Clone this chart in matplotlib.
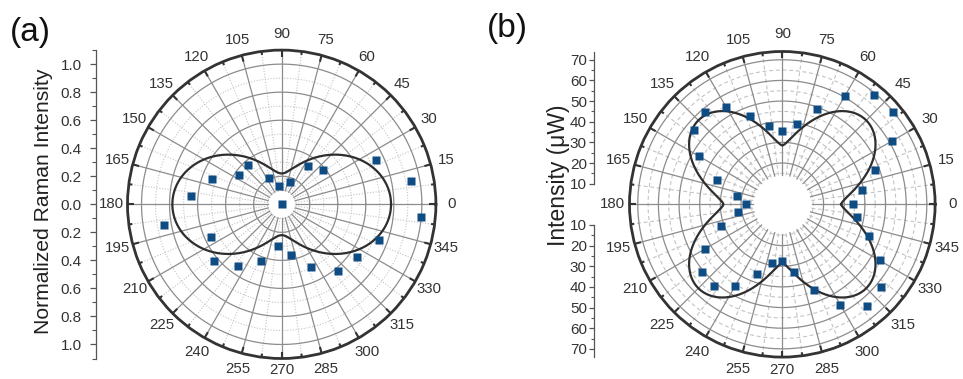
import matplotlib
matplotlib.use("Agg")  # headless
import matplotlib.pyplot as plt
import numpy as np

plt.rcParams["font.family"] = ["Liberation Sans", "DejaVu Sans"]

# ---- panel (a): normalized Raman intensity vs polarization angle (deg)
ANGLES_A = [10, 25, 40, 55, 70, 85, 100, 115, 130, 145, 160, 175,
            190, 205, 220, 235, 250, 265, 280, 295, 310, 325, 340, 355]
RAMAN_A = [0.94, 0.74, 0.38, 0.33, 0.17, 0.0, 0.13, 0.21, 0.37, 0.37, 0.53, 0.65,
           0.85, 0.56, 0.63, 0.54, 0.43, 0.30, 0.37, 0.49, 0.62, 0.66, 0.74, 1.0]
# cos^2 fit: (value at 90 deg, value at 0 deg)
FIT_A = (0.22, 0.78)
RTICKS_A = [-1.0, -0.8, -0.6, -0.4, -0.2, 0.0, 0.2, 0.4, 0.6, 0.8, 1.0]

# ---- panel (b): intensity (uW) vs angle (deg)
ANGLES_B = [0, 10, 20, 30, 40, 50, 60, 70, 80, 90, 100, 110,
            120, 130, 140, 150, 160, 170, 180, 190, 200, 210, 220, 230,
            240, 250, 260, 270, 280, 290, 300, 310, 320, 330, 340, 350]
POWER_B = [34.3, 39.0, 48.0, 61.2, 69.7, 69.0, 60.4, 49.3, 39.7, 35.3, 38.3, 45.7,
           54.6, 58.6, 55.9, 46.8, 33.9, 22.5, 17.8, 21.7, 31.4, 43.1, 50.8, 51.5,
           45.7, 35.9, 29.0, 27.3, 33.5, 44.4, 56.2, 64.0, 62.6, 54.4, 44.5, 36.5]
# four-lobe fit: (value at 0/90 deg, value at 45 deg, shape exponent)
FIT_B = (28.5, 57.5, 1.5)
RTICKS_B = [10, 20, 30, 40, 50, 60, 70]

ANGLE_LABELS = list(range(0, 360, 15))

W, H = 963, 379
MAJOR_C = "#8c8c8c"
MINOR_C = "#c4c4c4"
RING_C = "#333333"
MARK_C = "#0f4c84"
TEXT_C = "#333333"

fig = plt.figure(figsize=(W / 100, H / 100), dpi=100)


def polar_panel(cx, cy, rpx, rmax, r_hole, major_r, minor_r, minor_ls):
    rect = [(cx - rpx) / W, (H - cy - rpx) / H, 2 * rpx / W, 2 * rpx / H]
    ax = fig.add_axes(rect, projection="polar")
    ax.set_ylim(0, rmax)
    ax.set_xticks([])
    ax.set_yticks([])
    ax.grid(False)
    ax.spines["polar"].set_linewidth(2.0)
    ax.spines["polar"].set_color(RING_C)
    full = np.linspace(0, 2 * np.pi, 721)
    for r in minor_r:
        ax.plot(full, np.full_like(full, r), color=MINOR_C, lw=0.8, ls=minor_ls, zorder=1)
    for r in major_r:
        ax.plot(full, np.full_like(full, r), color=MAJOR_C, lw=0.9, zorder=1.2)
    for deg in ANGLE_LABELS:
        t = np.deg2rad(deg)
        ax.plot([t, t], [r_hole, rmax], color=MAJOR_C, lw=0.9, zorder=1.2)
        tm = np.deg2rad(deg + 7.5)
        ax.plot([tm, tm], [r_hole, rmax], color=MINOR_C, lw=0.8, ls=minor_ls, zorder=1)
    # ticks on the outer ring, pointing inwards
    per_px = rmax / rpx
    for k in range(48):
        t = np.deg2rad(k * 7.5)
        L = 6.5 if k % 2 == 0 else 3.5
        ax.plot([t, t], [rmax - L * per_px, rmax], color=RING_C, lw=1.5,
                solid_capstyle="butt", clip_on=False, zorder=3)
    for deg in ANGLE_LABELS:
        lab_px = 166 if deg == 270 else 170
        ax.text(np.deg2rad(deg), rmax * lab_px / rpx, str(deg), ha="center", va="center",
                fontsize=10.8, color=TEXT_C)
    return ax


def radial_axis(x, cy, rpx, rmax, bounds, ticks, minor, fmt, length, pad):
    ax = fig.add_axes([x / W, (H - cy - rpx) / H, 0.0005, 2 * rpx / H])
    ax.set_ylim(-rmax, rmax)
    for s in ["top", "right", "bottom"]:
        ax.spines[s].set_visible(False)
    ax.spines["left"].set_color("#555555")
    ax.spines["left"].set_linewidth(0.9)
    ax.spines["left"].set_bounds(*bounds)
    ax.patch.set_visible(False)
    ax.set_xticks([])
    ax.set_yticks(ticks)
    ax.set_yticklabels([fmt(abs(v)) for v in ticks])
    ax.set_yticks(minor, minor=True)
    ax.tick_params(axis="y", which="major", length=length, width=0.9, pad=pad,
                   labelsize=11, colors="#555555", labelcolor=TEXT_C)
    ax.tick_params(axis="y", which="minor", length=length * 0.55, width=0.8, colors="#555555")
    return ax


# ---------------- panel (a)
axa = polar_panel(281.7, 204.3, 154.2, 1.1, 0.1,
                  [0.2, 0.4, 0.6, 0.8, 1.0], [0.1, 0.3, 0.5, 0.7, 0.9], (0, (1, 1.5)))
th = np.linspace(0, 2 * np.pi, 721)
axa.plot(th, FIT_A[0] + (FIT_A[1] - FIT_A[0]) * np.cos(th) ** 2,
         color="#2e2e2e", lw=1.6, zorder=4)
axa.plot(np.deg2rad(ANGLES_A), RAMAN_A, "s", color=MARK_C, ms=5.4, mec="none",
         zorder=5, clip_on=False)
radial_axis(95.7, 204.3, 154.2, 1.1, (-1.1, 1.1), RTICKS_A,
            [v / 10 for v in range(-11, 12, 2)], lambda v: f"{v:.1f}", 4.6, 5.5)
fig.text(44, H - 201, "Normalized Raman Intensity", transform=None, rotation=90,
         ha="center", va="center", fontsize=15.2, color="#222222")
fig.text(30 / W, 1 - 32 / H, "(a)", ha="center", va="center", fontsize=24, color="#111111")

# ---------------- panel (b)
axb = polar_panel(782.3, 204.3, 152.8, 74, 14.2,
                  [20, 30, 40, 50, 60, 70], [15, 25, 35, 45, 55, 65], (0, (3.5, 2.5)))
axb.plot(th, FIT_B[0] + (FIT_B[1] - FIT_B[0]) * np.abs(np.sin(2 * th)) ** FIT_B[2],
         color="#2e2e2e", lw=1.6, zorder=4)
axb.plot(np.deg2rad(ANGLES_B), POWER_B, "s", color=MARK_C, ms=5.4, mec="none",
         zorder=5, clip_on=False)
minor_b = [15, 25, 35, 45, 55, 65]
radial_axis(594.3, 204.3, 152.8, 74, (10, 74), RTICKS_B, minor_b,
            lambda v: f"{v:.0f}", 3.8, 1.5)
radial_axis(594.3, 204.3, 152.8, 74, (-74, -10), [-v for v in RTICKS_B],
            [-v for v in minor_b], lambda v: f"{v:.0f}", 3.8, 1.5)
fig.text(558, H - 175, "Intensity (\u03bcW)", transform=None, rotation=90,
         ha="center", va="center", fontsize=16.5, color="#222222")
fig.text(507 / W, 1 - 29 / H, "(b)", ha="center", va="center", fontsize=24, color="#111111")

fig.savefig("out.png", dpi=100, facecolor="white")
